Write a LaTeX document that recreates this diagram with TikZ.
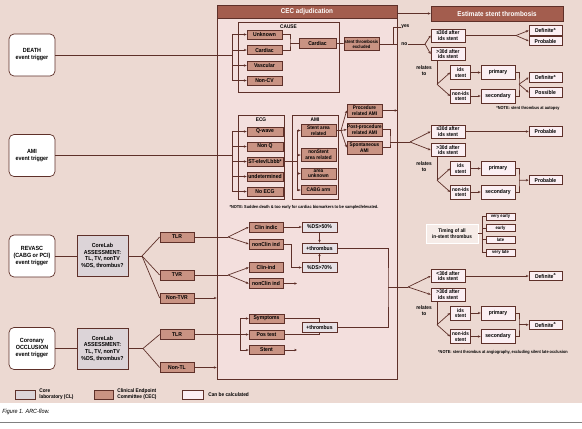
\documentclass[tikz,border=0pt]{standalone}
\usepackage{fontspec}
\setmainfont{Liberation Sans}[FakeStretch=0.9]
\usetikzlibrary{arrows.meta}
\definecolor{bgpink}{RGB}{236,217,210}
\definecolor{cecbg}{RGB}{243,223,221}
\definecolor{cecfill}{RGB}{201,147,131}
\definecolor{titlefill}{RGB}{163,93,78}
\definecolor{edge}{RGB}{94,48,41}
\definecolor{calcfill}{RGB}{251,239,243}
\definecolor{corefill}{RGB}{220,212,216}
\definecolor{dsfill}{RGB}{232,226,230}
\definecolor{timefill}{RGB}{246,236,232}

\begin{document}
\begin{tikzpicture}[x=1pt, y=-1pt, color=edge, line width=0.7pt,
>={Stealth[length=2.8pt,width=2.4pt]},
bx/.style = {draw, inner sep=0pt, align=center, text=black,
            font=\fontsize{5.6}{6.2}\selectfont\bfseries},
sm/.style = {font=\fontsize{5.2}{5.6}\selectfont\bfseries},
cecbox/.style = {bx, fill=cecfill, minimum width=35pt, minimum height=9pt},
calc/.style = {bx, fill=calcfill, minimum width=34pt, minimum height=13pt},
core/.style = {bx, fill=corefill, minimum width=51pt, minimum height=41pt,
            font=\fontsize{5.8}{6.6}\selectfont\bfseries},
trig/.style = {bx, fill=white, rounded corners=5pt, minimum width=46pt, minimum height=42pt,
            font=\fontsize{6}{7}\selectfont\bfseries},
grp/.style = {draw, inner sep=0pt, minimum width=46pt, minimum height=84pt},
bar/.style = {draw, fill=titlefill, text=white, inner sep=0pt, minimum height=13pt,
            font=\fontsize{7}{8}\selectfont\bfseries},
lbl/.style = {inner sep=0pt, text=black, align=center, font=\fontsize{5.3}{5.8}\selectfont\bfseries},
note/.style = {inner sep=0pt, text=black, font=\fontsize{4.3}{5}\selectfont\bfseries}
                ]
    \useasboundingbox (0,0) rectangle (582,429);
    \fill[bgpink] (0,0) rectangle (582,403);
    \draw[gray,line width=0.8pt] (0,422) -- (582,422);
    \node[anchor=west, inner sep=0pt, text=black, font=\fontsize{6}{7}\selectfont\itshape] (caption) at (2,412) {Figure 1. ARC-flow.};

    \node[draw, fill=cecbg, minimum width=180pt, minimum height=374pt] (cec) at (307,192) {};
    \node[bar, minimum width=180pt] (cectitle) at (307,11.5) {CEC adjudication};
    \node[bar, minimum width=132pt, minimum height=15pt] (est) at (497,13.5) {Estimate stent thrombosis};
    \draw[->] (est.west -| cectitle.east) -- (est.west);

    \foreach \y/\nm/\txt in {55/death/{DEATH\\event trigger}, 155.5/ami/{AMI\\event trigger},
        256/revasc/{REVASC\\(CABG or PCI)\\event trigger}, 348.5/occl/{Coronary\\OCCLUSION\\event trigger}}
        \node[trig] (\nm) at (32,\y) {\txt};
    \foreach \y/\nm in {256/coreA, 348.5/coreB}
        \node[core] (\nm) at (102.5,\y) {CoreLab\\ASSESSMENT:\\TL, TV, nonTV\\\%DS, thrombus?};
    \foreach \y/\nm/\txt in {237/tlrA/TLR, 275/tvr/TVR, 298/ntvr/Non-TVR, 334.5/tlrB/TLR, 367.5/ntl/Non-TL}
        \node[cecbox, minimum width=34pt, minimum height=10pt] (\nm) at (177,\y) {\txt};
    \draw (revasc) -- (coreA);
    \draw (occl) -- (coreB);
    \coordinate (fr) at (142,256);
    \coordinate (fo) at (143,348.5);
    \draw (coreA) -- (fr);
    \draw (coreB) -- (fo);
    \foreach \nm in {tlrA, tvr, ntvr} \draw (fr) -- (\nm.west);
    \foreach \nm in {tlrB, ntl} \draw (fo) -- (\nm.west);

    % CAUSE of death
    \node[grp, minimum width=101pt, minimum height=70pt] (cause) at (288.5,57) {};
    \node[lbl] (causelbl) at (288.5,26.5) {CAUSE};
    \foreach \y/\nm/\txt in {34.5/unk/Unknown, 50/card/Cardiac, 65.5/vasc/Vascular, 80.5/noncv/Non-CV}
        \node[cecbox] (\nm) at (264.5,\y) {\txt};
    \coordinate (bd) at (232,55);
    \draw (death) -- (bd);
    \draw (bd |- unk) -- (bd |- noncv);
    \foreach \nm in {unk, card, vasc, noncv} \draw[->] (bd |- \nm) -- (\nm.west);
    \node[cecbox, minimum width=37pt, minimum height=10pt] (cardB) at (317.5,43) {Cardiac};
    \node[cecbox, minimum height=13pt, font=\fontsize{4.6}{5.2}\selectfont\bfseries] (excl) at (361.5,44) {stent thrombosis\\excluded};
    \coordinate (jc) at (290,43);
    \draw (unk) -| (jc) |- (card);
    \draw (jc) -- (cardB);
    \draw (cardB) -- (excl);
    \node[lbl, anchor=west] (yes) at (401,27) {yes};
    \node[lbl, anchor=west] (no) at (401,44) {no};
    \coordinate (yn) at (393,44);
    \draw (excl) -- (excl -| cec.east);
    \draw (yn) |- (yes);

    % ECG and AMI
    \node[grp] (ecg) at (261,157) {};
    \node[lbl] (ecglbl) at (261,119.5) {ECG};
    \foreach \y/\nm/\txt in {131.5/qw/Q-wave, 146.5/nonq/Non Q, 161.5/stel/{ST-elev/Lbbb*},
        176.5/undet/undetermined, 191.5/noecg/No ECG}
        \node[cecbox, minimum width=36pt] (\nm) at (265,\y) {\txt};
    \coordinate (ba) at (232,155.5);
    \draw (ami) -- (ba);
    \draw (ba |- qw) -- (ba |- noecg);
    \foreach \nm in {qw, nonq, stel, undet, noecg} \draw[->] (ba |- \nm) -- (\nm.west);
    \node[grp] (amigrp) at (315,157) {};
    \node[lbl] (amilbl) at (315,119.5) {AMI};
    \foreach \y/\h/\nm/\txt in {130.5/12/sar/{Stent area\\related}, 155/13/nsar/{nonStent\\area related},
        173.5/11/aunk/{area\\unknown}, 190/9/cabg/{CABG arm}}
        \node[cecbox, sm, minimum height=\h pt] (\nm) at (318.5,\y) {\txt};
    \coordinate (bam) at (297,161.5);
    \draw (stel) -- (bam);
    \draw (bam |- sar) -- (bam |- cabg);
    \foreach \nm in {sar, nsar, aunk, cabg} \draw[->] (bam |- \nm) -- (\nm.west);
    \foreach \y/\nm/\txt in {110.5/proc/{Procedure\\related AMI}, 129.5/post/{Post-procedure\\related AMI},
        147.5/spont/{Spontaneous\\AMI}}
        \node[cecbox, sm, minimum height=13pt] (\nm) at (364.5,\y) {\txt};
    \coordinate (fs) at (341,130.5);
    \draw (sar) -- (fs);
    \foreach \nm in {proc, post, spont} \draw[->] (fs) -- (\nm.west);
    \draw[->] (proc) -- (proc -| cec.east);
    \node[note] (notea) at (304,207) {*NOTE: Sudden death \& too early for cardiac biomarkers to be sampled/elevated.};

    % revascularisation and occlusion
    \foreach \y/\nm/\txt in {227/clinA/Clin indic, 244/nclinA/nonClin ind, 267.5/clinB/Clin-ind, 283.5/nclinB/nonClin ind}
        \node[cecbox, minimum width=34pt, minimum height=10pt] (\nm) at (266,\y) {\txt};
    \coordinate (ft) at (228,237);
    \coordinate (fv) at (228,275);
    \draw (tlrA) -- (ft);
    \draw (tvr) -- (fv);
    \foreach \nm in {clinA, nclinA} \draw[->] (ft) -- (\nm.west);
    \foreach \nm in {clinB, nclinB} \draw[->] (fv) -- (\nm.west);
    \draw[->] (ntvr) -- (ntvr -| cec.west);
    \draw[->] (ntl) -- (ntl -| cec.west);
    \foreach \y/\nm/\txt in {227/dsA/{\%DS>50\%}, 248/thrA/+thrombus, 267.5/dsB/{\%DS>70\%}, 327/thrB/+thrombus}
        \node[bx, fill=dsfill, minimum width=35pt, minimum height=10pt] (\nm) at (319.5,\y) {\txt};
    \coordinate (kA) at (291,267.5);
    \draw[->] (clinA) -- (dsA);
    \draw (nclinA) -| (kA);
    \draw[->] (kA) -- (dsB);
    \draw[->] (dsA) -- (thrA);
    \draw[->] (dsB) -- (thrA);
    \coordinate (ex) at (297,283.5);
    \draw[->] (nclinB) -- (ex);
    \foreach \y/\nm/\txt in {318.5/symp/Symptoms, 334.5/pos/Pos test, 350/stent/Stent}
        \node[cecbox] (\nm) at (266.5,\y) {\txt};
    \coordinate (bo) at (240,334.5);
    \draw (tlrB) -- (bo);
    \draw (bo |- symp) -- (bo |- stent);
    \foreach \nm in {symp, pos, stent} \draw[->] (bo |- \nm) -- (\nm.west);
    \draw (symp) -| (thrB);
    \draw (pos) -| (thrB);
    \coordinate (es) at (297,350);
    \draw[->] (stent) -- (es);
    \coordinate (jn3) at (388,287);
    \draw (thrA) -| (jn3) |- (thrB);

    % stent thrombosis columns
    \foreach \g/\by/\cmp/\fx/\fy in {1/35.5/≤/425/44, 2/131.5/≤/410/142, 3/276/</408/287} {
        \node[calc, font=\fontsize{5.4}{5.8}\selectfont\bfseries] (le\g) at (448,\by) {\cmp30d after\\ids stent};
        \node[calc, font=\fontsize{5.4}{5.8}\selectfont\bfseries] (gt\g) at (448,\by+18.5) {>30d after\\ids stent};
        \node[calc, sm, minimum width=20pt, minimum height=14pt] (ids\g) at (460.5,\by+37) {ids\\stent};
        \node[calc, sm, minimum width=20pt, minimum height=14pt] (nids\g) at (460.5,\by+60.5) {non-ids\\stent};
        \node[calc, minimum height=14pt] (pri\g) at (498,\by+37) {primary};
        \node[calc, minimum height=14pt] (sec\g) at (498,\by+60.5) {secondary};
        \node[lbl] (rel\g) at (424,\by+35) {relates\\to};
        \coordinate (fi\g) at (\fx,\fy);
        \coordinate (fg\g) at (437,\by+48.75);
        \coordinate (bk\g) at (519,\by+48.75);
        \draw[->] (fi\g) -- (le\g.west);
        \draw[->] (fi\g) -- (gt\g.west);
        \draw (gt\g.south -| fg\g) -- (fg\g);
        \draw[->] (fg\g) -- (ids\g.west);
        \draw[->] (fg\g) -- (nids\g.west);
        \draw[->] (ids\g) -- (pri\g);
        \draw[->] (nids\g) -- (sec\g);
        \draw (pri\g) -| (bk\g) |- (sec\g);
    }
    \foreach \y/\nm/\txt in {30.5/defA/{Definite\textsuperscript{a}}, 41/probA/Probable,
        77.5/defB/{Definite\textsuperscript{a}}, 92.5/poss/Possible, 131.5/probB/Probable, 180/probC/Probable,
        276/defC/{Definite\textsuperscript{a}}, 324.75/defD/{Definite\textsuperscript{a}}}
        \node[calc, minimum width=33pt, minimum height=9.5pt] (\nm) at (545.5,\y) {\txt};
    \coordinate (ft1) at (516,35.5);
    \draw (le1) -- (ft1);
    \draw[->] (ft1) -- (defA.west);
    \draw[->] (ft1) -- (probA.west);
    \draw[->] (bk1) -- (defB.west);
    \draw[->] (bk1) -- (poss.west);
    \draw[->] (le2) -- (probB);
    \draw[->] (bk2) -- (probC);
    \draw[->] (le3) -- (defC);
    \draw[->] (bk3) -- (defD);
    \draw (no) -- (fi1);
    \coordinate (jn2) at (390,142);
    \draw (post) -| (jn2) |- (spont);
    \draw (jn2) -- (fi2);
    \draw (jn3) -- (fi3);
    \node[note] (noteb) at (528,108) {*NOTE: stent thrombus at autopsy};
    \node[note] (notec) at (503,352) {*NOTE: stent thrombus at angiography, excluding silent late occlusion};

    % timing
    \node[bx, sm, draw=white, fill=timefill, minimum width=52pt, minimum height=19pt] (timing) at (452,233.5) {Timing of all\\in-stent thrombus};
    \foreach \y/\nm/\txt in {216.5/vearly/very early, 228/early/early, 239.5/late/late, 252.5/vlate/very late}
        \node[calc, minimum width=29pt, minimum height=7pt, font=\fontsize{4.6}{5}\selectfont\bfseries] (\nm) at (500.5,\y) {\txt};
    \coordinate (tb) at (482,233.5);
    \draw (timing) -- (tb);
    \draw (tb |- vearly) -- (tb |- vlate);
    \foreach \nm in {vearly, early, late, vlate} \draw (tb |- \nm) -- (\nm.west);

    % legend
    \node[bx, fill=corefill, minimum width=20pt, minimum height=9pt] (lgcore) at (25,394.5) {};
    \node[lbl, anchor=west, align=left] (lgcoretxt) at (39,394.5) {Core\\laboratory (CL)};
    \node[bx, fill=cecfill, minimum width=19pt, minimum height=9pt] (lgcec) at (103.5,394.5) {};
    \node[lbl, anchor=west, align=left] (lgcectxt) at (117,394.5) {Clinical Endpoint\\Committee (CEC)};
    \node[bx, fill=calcfill, minimum width=21pt, minimum height=9pt] (lgcalc) at (192.5,394.5) {};
    \node[lbl, anchor=west] (lgcalctxt) at (208,394.5) {Can be calculated};
\end{tikzpicture}
\end{document}
